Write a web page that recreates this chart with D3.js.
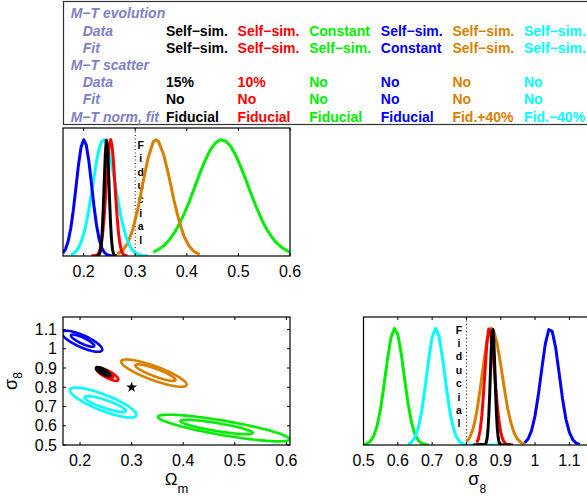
<!DOCTYPE html>
<html><head><meta charset="utf-8">
<script src="https://cdn.jsdelivr.net/npm/d3@7"></script>
<style>
html,body{margin:0;padding:0;background:#fff;}
svg{display:block;font-family:"Liberation Sans",Arial,Helvetica,sans-serif;}
</style></head>
<body>
<svg id="chart" width="587" height="497"></svg>
<script>
// ---------------- DATA ----------------
const runs = ["black","red","green","blue","orange","cyan"];
const rowLabels = ["M\u2212T evolution","Data","Fit","M\u2212T scatter","Data","Fit","M\u2212T norm, fit"];
const rowIsHeader = [true,false,false,true,false,false,true];
const evoData = ["Self\u2212sim.","Self\u2212sim.","Constant","Self\u2212sim.","Self\u2212sim.","Self\u2212sim."];
const evoFit = ["Self\u2212sim.","Self\u2212sim.","Self\u2212sim.","Constant","Self\u2212sim.","Self\u2212sim."];
const scatterData = ["15%","10%","No","No","No","No"];
const scatterFit = ["No","No","No","No","No","No"];
const normFit = ["Fiducial","Fiducial","Fiducial","Fiducial","Fid.+40%","Fid.\u221240%"];

const omegaTicks = [0.2,0.3,0.4,0.5,0.6];
const sigmaTicks = [0.5,0.6,0.7,0.8,0.9,1,1.1];
const fiducialOmega = 0.3;
const fiducialSigma = 0.8;
const fiducialWord = "Fiducial";

// marginal posterior of Omega_m (normalised to peak 1)
const omegaBlue = [[0.160,0.026],[0.165,0.060],[0.170,0.127],[0.175,0.236],[0.180,0.393],[0.185,0.586],[0.190,0.783],[0.195,0.935],[0.200,0.999],[0.205,0.956],[0.210,0.819],[0.215,0.627],[0.220,0.430],[0.225,0.264],[0.230,0.145],[0.235,0.071],[0.240,0.031],[0.245,0.012],[0.250,0.004],[0.255,0.001],[0.260,0]];
const omegaCyan = [[0.175,0.010],[0.180,0.020],[0.185,0.039],[0.190,0.069],[0.195,0.118],[0.200,0.187],[0.205,0.278],[0.210,0.397],[0.215,0.534],[0.220,0.679],[0.225,0.815],[0.230,0.923],[0.235,0.986],[0.240,0.998],[0.245,0.961],[0.250,0.882],[0.255,0.773],[0.260,0.646],[0.265,0.517],[0.270,0.392],[0.275,0.284],[0.280,0.198],[0.285,0.130],[0.290,0.081],[0.295,0.049],[0.300,0.028],[0.305,0.015],[0.310,0.008],[0.315,0.004],[0.320,0.002],[0.325,0]];
const omegaBlack = [[0.226,0],[0.230,0.010],[0.232,0.034],[0.234,0.091],[0.236,0.208],[0.238,0.401],[0.240,0.644],[0.242,0.874],[0.244,0.995],[0.246,0.953],[0.248,0.766],[0.250,0.517],[0.252,0.296],[0.254,0.141],[0.256,0.056],[0.258,0.019],[0.260,0.005],[0.264,0]];
const omegaRed = [[0.215,0],[0.225,0.006],[0.2275,0.014],[0.230,0.032],[0.2325,0.066],[0.235,0.125],[0.2375,0.220],[0.240,0.350],[0.2425,0.515],[0.245,0.691],[0.2475,0.854],[0.250,0.964],[0.2525,1.000],[0.255,0.950],[0.2575,0.830],[0.260,0.661],[0.2625,0.487],[0.265,0.329],[0.2675,0.201],[0.270,0.115],[0.2725,0.059],[0.275,0.028],[0.2775,0.012],[0.280,0.005],[0.285,0.001]];
const omegaOrange = [[0.265,0.016],[0.275,0.044],[0.285,0.106],[0.295,0.224],[0.305,0.402],[0.315,0.631],[0.325,0.845],[0.335,0.982],[0.340,1.000],[0.345,0.985],[0.355,0.874],[0.365,0.691],[0.375,0.481],[0.385,0.301],[0.395,0.164],[0.405,0.081],[0.415,0.035],[0.425,0.014]];
const omegaGreen = [[0.335,0.034],[0.345,0.056],[0.355,0.087],[0.365,0.133],[0.375,0.194],[0.385,0.270],[0.395,0.365],[0.405,0.470],[0.415,0.588],[0.425,0.708],[0.435,0.815],[0.445,0.908],[0.455,0.970],[0.465,0.999],[0.475,0.989],[0.485,0.943],[0.495,0.864],[0.505,0.761],[0.515,0.649],[0.525,0.528],[0.535,0.418],[0.545,0.315],[0.555,0.228],[0.565,0.161],[0.575,0.108],[0.585,0.071],[0.595,0.044],[0.600,0.034]];

// marginal posterior of sigma_8 (normalised to peak 1)
const sigmaGreen = [[0.50,0.003],[0.51,0.011],[0.52,0.032],[0.53,0.078],[0.54,0.168],[0.55,0.315],[0.56,0.517],[0.57,0.738],[0.58,0.920],[0.59,0.999],[0.60,0.947],[0.61,0.783],[0.62,0.564],[0.63,0.354],[0.64,0.194],[0.65,0.091],[0.66,0.038],[0.67,0.014],[0.68,0.004],[0.69,0.001]];
const sigmaCyan = [[0.63,0.008],[0.64,0.025],[0.65,0.066],[0.66,0.152],[0.67,0.296],[0.68,0.504],[0.69,0.732],[0.70,0.923],[0.71,1.000],[0.72,0.934],[0.73,0.755],[0.74,0.528],[0.75,0.315],[0.76,0.164],[0.77,0.073],[0.78,0.028],[0.79,0.009],[0.80,0.003],[0.90,0]];
const sigmaOrange = [[0.800,0.026],[0.810,0.066],[0.820,0.146],[0.830,0.282],[0.840,0.475],[0.850,0.696],[0.860,0.891],[0.870,0.994],[0.873,1.000],[0.880,0.974],[0.890,0.860],[0.900,0.685],[0.910,0.493],[0.920,0.315],[0.930,0.184],[0.940,0.097],[0.950,0.046],[0.960,0.019],[0.970,0.007]];
const sigmaRed = [[0.830,0.020],[0.835,0.054],[0.840,0.127],[0.845,0.256],[0.850,0.452],[0.855,0.679],[0.860,0.887],[0.865,0.994],[0.870,0.975],[0.875,0.865],[0.880,0.697],[0.885,0.510],[0.890,0.335],[0.895,0.201],[0.900,0.110],[0.905,0.055],[0.910,0.024],[0.915,0.010],[0.920,0.004],[0.930,0]];
const sigmaBlack = [[0.820,0],[0.855,0.007],[0.8575,0.020],[0.860,0.052],[0.8625,0.120],[0.865,0.240],[0.8675,0.418],[0.870,0.631],[0.8725,0.840],[0.875,0.976],[0.8775,0.989],[0.880,0.878],[0.8825,0.679],[0.885,0.458],[0.8875,0.270],[0.890,0.138],[0.8925,0.063],[0.895,0.025],[0.8975,0.008],[0.900,0.002],[0.935,0]];
const sigmaBlue = [[0.97,0.020],[0.98,0.054],[0.99,0.125],[1.00,0.252],[1.01,0.440],[1.02,0.661],[1.03,0.869],[1.04,0.989],[1.05,0.974],[1.06,0.835],[1.07,0.618],[1.08,0.397],[1.09,0.220],[1.10,0.108],[1.11,0.045],[1.12,0.016],[1.13,0.003]];

// joint contours: centre [Om, s8], major semi-axis [dOm, ds8], minor semi-axis [dOm, ds8]
const contourGreen = [
  {c:[0.4785,0.5882], a:[0.1275,-0.0586], b:[-0.0023,-0.0370]},
  {c:[0.4649,0.5934], a:[0.0701,-0.0311], b:[-0.0013,-0.0205]}];
const contourOrange = [
  {c:[0.3432,0.8734], a:[0.0633,-0.0622], b:[-0.0047,-0.0341]},
  {c:[0.3462,0.8760], a:[0.0389,-0.0389], b:[-0.0026,-0.0184]}];
const contourCyan = [
  {c:[0.2449,0.7204], a:[0.0643,-0.0674], b:[-0.0057,-0.0386]},
  {c:[0.2488,0.7127], a:[0.0399,-0.0363], b:[-0.0025,-0.0196]}];
const contourBlue = [
  {c:[0.2040,1.0390], a:[0.0389,-0.0467], b:[-0.0048,-0.0284]},
  {c:[0.2050,1.0420], a:[0.0224,-0.0285], b:[-0.0025,-0.0141]}];
const contourRed = [
  {c:[0.2527,0.8683], a:[0.0214,-0.0311], b:[-0.0033,-0.0160]},
  {c:[0.2488,0.8734], a:[0.0156,-0.0223], b:[-0.0020,-0.0100]}];
const contourBlack = [
  {c:[0.2449,0.8812], a:[0.0136,-0.0207], b:[-0.0024,-0.0113]},
  {c:[0.2449,0.8812], a:[0.0078,-0.0119], b:[-0.0012,-0.0054]}];

// ---------------- STYLE ----------------
const colorOf = {black:"#000000", red:"#ff0000", green:"#00ee00", blue:"#0000ff", orange:"#d98000", cyan:"#00ffff"};
const labelColor = "#8080c8";

const svg = d3.select("#chart");

// ---------------- TABLE ----------------
const table = svg.append("g");
table.append("rect").attr("x",63.5).attr("y",1.5).attr("width",530).attr("height",123)
  .attr("fill","none").attr("stroke","#333").attr("stroke-width",1.2);
const rowY = d3.scaleLinear().domain([0,6]).range([18.3,121.6]);
const colX = d3.scaleLinear().domain([0,5]).range([166,524]);
table.selectAll("text.rl").data(rowLabels).join("text")
  .attr("x",(d,i)=> rowIsHeader[i]?70.7:82.7).attr("y",(d,i)=>rowY(i))
  .attr("fill",labelColor).attr("font-weight","bold").attr("font-style","italic")
  .attr("font-size",14).text(d=>d);
const rowVals = [null, evoData, evoFit, null, scatterData, scatterFit, normFit];
rowVals.forEach((vals,ri)=>{
  if(!vals) return;
  table.selectAll(null).data(vals).join("text")
    .attr("x",(d,i)=>colX(i)).attr("y",rowY(ri))
    .attr("fill",(d,i)=>colorOf[runs[i]]).attr("font-weight","bold").attr("font-size",14)
    .text(d=>d);
});

// ---------------- helpers ----------------
function frame(g, x0,x1,y0,y1, clipId){
  g.append("clipPath").attr("id",clipId).append("rect")
    .attr("x",x0).attr("y",y0).attr("width",x1-x0).attr("height",y1-y0);
}
function box(g,x0,x1,y0,y1){
  g.append("rect").attr("x",x0).attr("y",y0).attr("width",x1-x0).attr("height",y1-y0)
    .attr("fill","none").attr("stroke","#000").attr("stroke-width",1.2);
}
function xTicks(g, xs, ticks, y0, y1, fmt){
  ticks.forEach(t=>{
    const x = xs(t);
    g.append("line").attr("x1",x).attr("x2",x).attr("y1",y1).attr("y2",y1-3).attr("stroke","#000");
    g.append("line").attr("x1",x).attr("x2",x).attr("y1",y0).attr("y2",y0+3).attr("stroke","#000");
    g.append("text").attr("x",x).attr("y",y1+21).attr("text-anchor","middle")
      .attr("font-size",16).text(fmt(t));
  });
}
const fmtTick = d3.format("~g");

function fiducialMarker(g, x, y0, y1, letterX, firstY, step){
  g.append("line").attr("x1",x).attr("x2",x).attr("y1",y0).attr("y2",y1)
    .attr("stroke","#000").attr("stroke-width",1).attr("stroke-dasharray","1,2.5");
  g.selectAll(null).data(fiducialWord.split("")).join("text")
    .attr("x",letterX).attr("y",(d,i)=>firstY+i*step).attr("text-anchor","middle")
    .attr("font-size",10.5).attr("font-weight","bold").text(d=>d);
}

// ---------------- TOP PANEL (Omega_m marginal) ----------------
const T = {x0:63,x1:290,y0:128,y1:256};
const gT = svg.append("g");
frame(gT,T.x0,T.x1,T.y0,T.y1,"clipT");
const xT = d3.scaleLinear().domain([0.16,0.60]).range([T.x0,T.x1]);
const yT = d3.scaleLinear().domain([0,1.10]).range([T.y1,T.y0]);
const lineT = d3.line().x(d=>xT(d[0])).y(d=>yT(d[1]));
fiducialMarker(gT, xT(fiducialOmega), T.y0, T.y1, xT(fiducialOmega)+5.5, 148.5, 13.6);
const curvesT = [["green",omegaGreen],["orange",omegaOrange],["cyan",omegaCyan],["blue",omegaBlue],["red",omegaRed],["black",omegaBlack]];
gT.append("g").attr("clip-path","url(#clipT)").selectAll("path").data(curvesT).join("path")
  .attr("d",d=>lineT(d[1])).attr("fill","none").attr("stroke",d=>colorOf[d[0]])
  .attr("stroke-width",3).attr("stroke-linejoin","round");
box(gT,T.x0,T.x1,T.y0,T.y1);
xTicks(gT,xT,omegaTicks,T.y0,T.y1,fmtTick);

// ---------------- BOTTOM LEFT (joint contours) ----------------
const L = {x0:63,x1:290,y0:317,y1:445};
const gL = svg.append("g");
frame(gL,L.x0,L.x1,L.y0,L.y1,"clipL");
const xL = d3.scaleLinear().domain([0.167,0.607]).range([L.x0,L.x1]);
const yL = d3.scaleLinear().domain([0.5,1.165]).range([L.y1,L.y0]);
const ellLine = d3.line().x(d=>xL(d[0])).y(d=>yL(d[1]));
function ellipsePts(e){
  return d3.range(0,121).map(i=>{
    const t = i/120*2*Math.PI;
    return [e.c[0]+e.a[0]*Math.cos(t)+e.b[0]*Math.sin(t), e.c[1]+e.a[1]*Math.cos(t)+e.b[1]*Math.sin(t)];
  });
}
const contours = [["green",contourGreen],["orange",contourOrange],["cyan",contourCyan],["blue",contourBlue],["red",contourRed],["black",contourBlack]];
const gc = gL.append("g").attr("clip-path","url(#clipL)");
contours.forEach(([name,list])=>{
  list.forEach(e=>{
    gc.append("path").attr("d",ellLine(ellipsePts(e))).attr("fill","none")
      .attr("stroke",colorOf[name]).attr("stroke-width",2.6);
  });
});
gL.append("path").attr("d",d3.symbol(d3.symbolStar,38)())
  .attr("transform",`translate(${xL(fiducialOmega)},${yL(fiducialSigma)})`).attr("fill","#000");
box(gL,L.x0,L.x1,L.y0,L.y1);
xTicks(gL,xL,omegaTicks,L.y0,L.y1,fmtTick);
sigmaTicks.forEach(t=>{
  const y = yL(t);
  gL.append("line").attr("x1",L.x0).attr("x2",L.x0+3).attr("y1",y).attr("y2",y).attr("stroke","#000");
  gL.append("line").attr("x1",L.x1).attr("x2",L.x1-3).attr("y1",y).attr("y2",y).attr("stroke","#000");
  gL.append("text").attr("x",L.x0-6).attr("y",y+5.5).attr("text-anchor","end").attr("font-size",16).text(fmtTick(t));
});
const omLab = gL.append("text").attr("x",(L.x0+L.x1)/2).attr("y",485).attr("text-anchor","middle").attr("font-size",17);
omLab.append("tspan").text("\u03A9");
omLab.append("tspan").attr("font-size",13).attr("dy",8).text("m");
const sgLab = gL.append("text").attr("transform",`translate(17,${(L.y0+L.y1)/2}) rotate(-90)`)
  .attr("text-anchor","middle").attr("font-size",18);
sgLab.append("tspan").text("\u03C3");
sgLab.append("tspan").attr("font-size",12).attr("dy",5).text("8");

// ---------------- BOTTOM RIGHT (sigma_8 marginal) ----------------
const R = {x0:363.5,x1:591,y0:317,y1:445};
const gR = svg.append("g");
frame(gR,R.x0,R.x1,R.y0,R.y1,"clipR");
const xR = d3.scaleLinear().domain([0.5,1.163]).range([R.x0,R.x1]);
const yR = d3.scaleLinear().domain([0,1.097]).range([R.y1,R.y0]);
const lineR = d3.line().x(d=>xR(d[0])).y(d=>yR(d[1]));
fiducialMarker(gR, xR(fiducialSigma), R.y0, R.y1, xR(fiducialSigma)-7.5, 333.5, 13.4);
const curvesR = [["green",sigmaGreen],["cyan",sigmaCyan],["orange",sigmaOrange],["blue",sigmaBlue],["red",sigmaRed],["black",sigmaBlack]];
gR.append("g").attr("clip-path","url(#clipR)").selectAll("path").data(curvesR).join("path")
  .attr("d",d=>lineR(d[1])).attr("fill","none").attr("stroke",d=>colorOf[d[0]])
  .attr("stroke-width",3).attr("stroke-linejoin","round");
box(gR,R.x0,R.x1,R.y0,R.y1);
xTicks(gR,xR,sigmaTicks,R.y0,R.y1,fmtTick);
const s8Lab = gR.append("text").attr("x",(R.x0+R.x1)/2).attr("y",485).attr("text-anchor","middle").attr("font-size",18);
s8Lab.append("tspan").text("\u03C3");
s8Lab.append("tspan").attr("font-size",12).attr("dy",8).text("8");
</script>
</body></html>
